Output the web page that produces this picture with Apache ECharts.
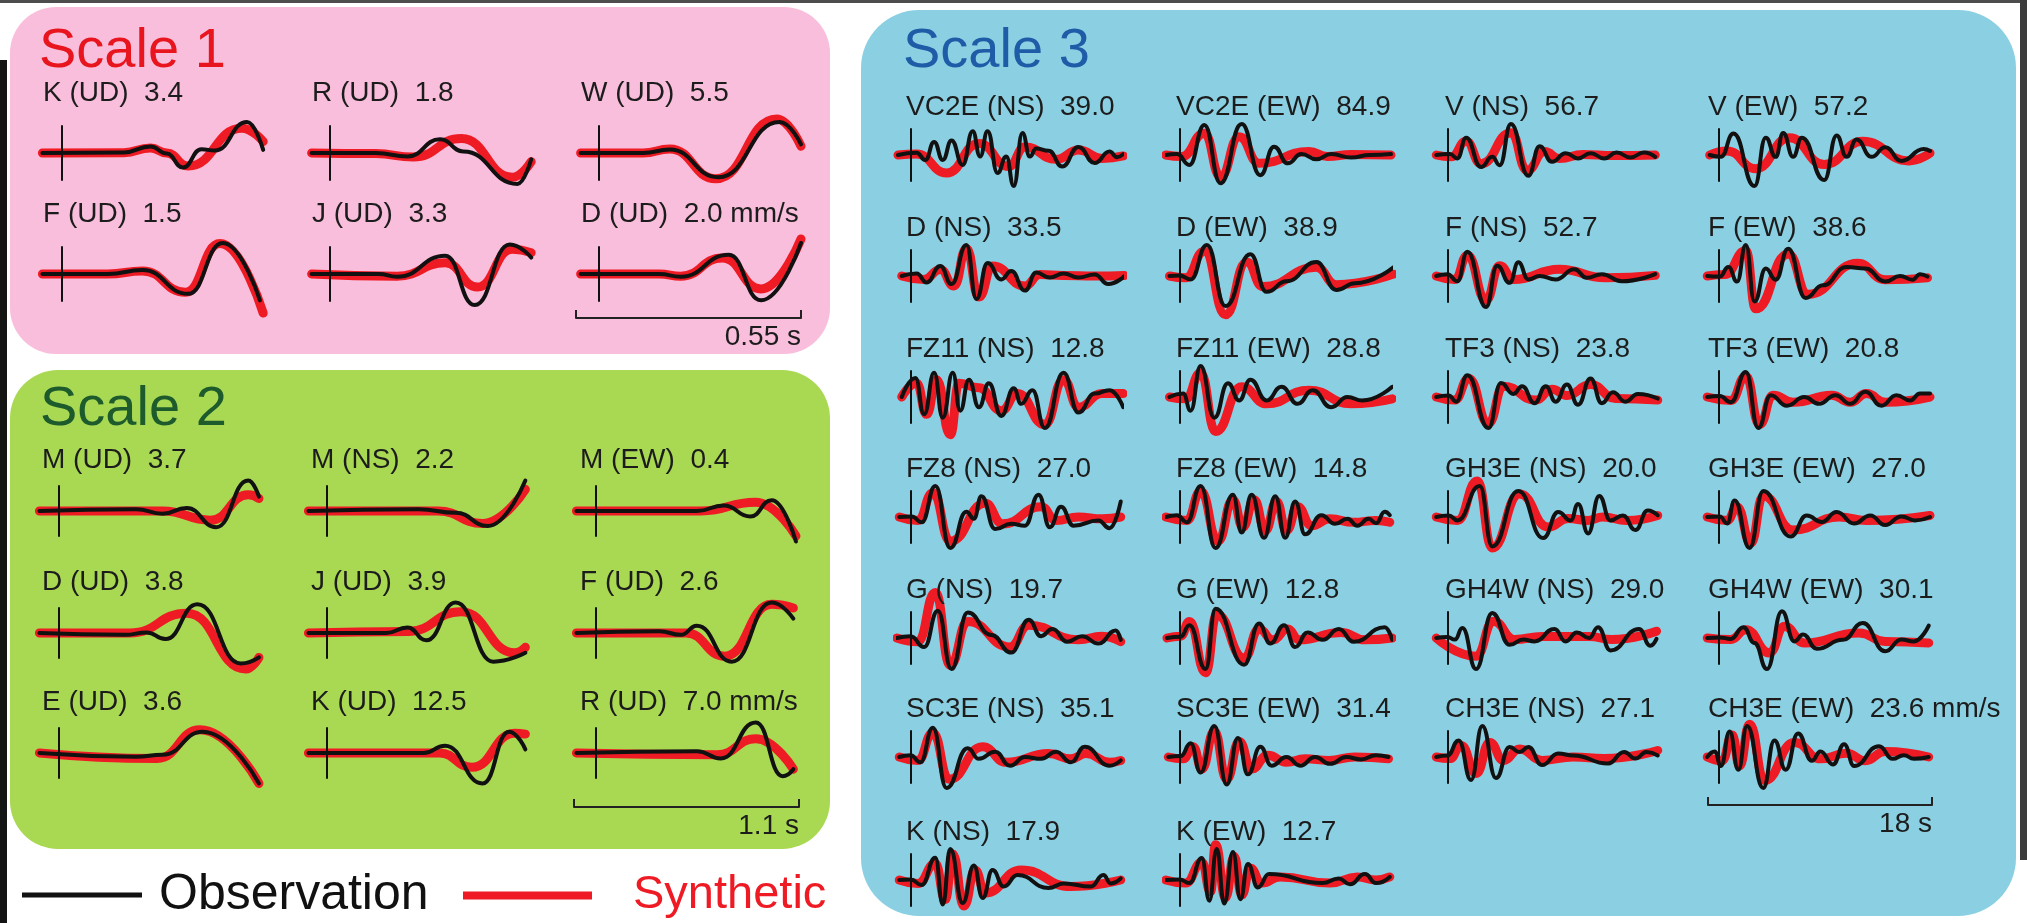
<!DOCTYPE html>
<html>
<head>
<meta charset="utf-8">
<script src="https://cdn.jsdelivr.net/npm/echarts@6/dist/echarts.min.js"></script>
<style>
  html, body { margin: 0; padding: 0; background: #ffffff; }
  #chart { width: 2027px; height: 923px; }
</style>
</head>
<body>
<div id="chart"></div>
<script>
// ---------------------------------------------------------------------------
// Waveform comparison: observed (black) vs synthetic (red) velocity records.
// Each trace is stored as [time (s), velocity / peak] pairs; the peak value
// (mm/s) printed next to each station scales the trace back to mm/s.
// ---------------------------------------------------------------------------

// ----- Scale 1 : 0.55 s window -----
const scale1Stations = ['K (UD)', 'R (UD)', 'W (UD)', 'F (UD)', 'J (UD)', 'D (UD)'];
const scale1Peaks = [3.4, 1.8, 5.5, 1.5, 3.3, 2.0];
const scale1Obs = [
  [[-0.049,0],[0.153,0.02],[0.219,0.21],[0.259,-0.02],[0.299,-0.47],[0.345,0.12],[0.378,0.08],[0.458,1.0],[0.498,0.1]],
  [[-0.046,0],[0.113,0],[0.192,-0.11],[0.272,0.44],[0.33,0.05],[0.464,-1.0],[0.498,-0.2]],
  [[-0.046,0],[0.109,0],[0.175,0.11],[0.295,-0.78],[0.447,1.0],[0.5,0.28]],
  [[-0.049,0],[0.113,0],[0.199,0.13],[0.312,-0.64],[0.398,1.0],[0.49,-0.85]],
  [[-0.046,0],[0.12,0],[0.166,-0.09],[0.285,0.59],[0.358,-1.0],[0.445,0.95],[0.498,0.53]],
  [[-0.046,0],[0.149,0],[0.202,-0.09],[0.321,0.62],[0.401,-0.85],[0.5,1.0]]
];
const scale1Syn = [
  [[-0.049,0],[0.153,0.01],[0.219,0.16],[0.259,0],[0.312,-0.42],[0.445,0.8],[0.498,0.37]],
  [[-0.046,0],[0.113,-0.02],[0.206,-0.13],[0.325,0.47],[0.451,-0.78],[0.498,-0.28]],
  [[-0.046,0],[0.109,0],[0.175,0.13],[0.289,-0.83],[0.44,1.1],[0.5,0.22]],
  [[-0.049,0],[0.113,0],[0.199,0.1],[0.305,-0.59],[0.391,0.98],[0.498,-1.26]],
  [[-0.046,0],[0.166,-0.07],[0.285,0.36],[0.365,-0.42],[0.451,0.8],[0.498,0.69]],
  [[-0.046,0],[0.149,0],[0.202,-0.07],[0.305,0.52],[0.401,-0.48],[0.5,1.13]]
];

// ----- Scale 2 : 1.1 s window -----
const scale2Stations = ['M (UD)', 'M (NS)', 'M (EW)', 'D (UD)', 'J (UD)', 'F (UD)', 'E (UD)', 'K (UD)', 'R (UD)'];
const scale2Peaks = [3.7, 2.2, 0.4, 3.8, 3.9, 2.6, 3.6, 12.5, 7.0];
const scale2Obs = [
  [[-0.098,0],[0.38,0.06],[0.512,-0.09],[0.632,0.1],[0.778,-0.53],[0.937,1.0],[0.99,0.47]],
  [[-0.093,0],[0.451,0.06],[0.637,-0.06],[0.796,-0.49],[0.982,1.0]],
  [[-0.098,0],[0.499,0],[0.632,0.18],[0.764,-0.18],[0.87,0.35],[0.99,-1.0]],
  [[-0.098,0],[0.326,-0.06],[0.433,0.02],[0.526,-0.2],[0.685,0.94],[0.9,-1.0],[0.99,-0.8]],
  [[-0.093,0],[0.292,0],[0.398,0.18],[0.491,-0.24],[0.637,1.0],[0.823,-0.94],[0.982,-0.65]],
  [[-0.098,0],[0.313,0.06],[0.419,-0.06],[0.499,0.24],[0.671,-0.94],[0.87,1.0],[0.977,0.47]],
  [[-0.098,0],[0.38,-0.12],[0.512,-0.06],[0.711,0.7],[0.99,-1.0]],
  [[-0.093,0],[0.478,0],[0.584,0.24],[0.77,-1.0],[0.902,0.7],[0.982,0.12]],
  [[-0.098,0],[0.499,0.06],[0.618,-0.18],[0.791,1.0],[0.924,-0.76],[0.977,-0.53]]
];
const scale2Syn = [
  [[-0.098,0],[0.512,0],[0.75,-0.3],[0.937,0.53],[0.99,0.41]],
  [[-0.093,0],[0.55,0],[0.77,-0.41],[0.982,0.71]],
  [[-0.098,0],[0.52,0],[0.79,0.29],[0.99,-0.82]],
  [[-0.098,0],[0.35,0],[0.633,0.65],[0.924,-1.18],[0.99,-0.8]],
  [[-0.093,0],[0.4,0.05],[0.663,0.7],[0.93,-0.65],[0.982,-0.47]],
  [[-0.098,0],[0.446,0],[0.637,-0.76],[0.87,0.94],[0.977,0.82]],
  [[-0.098,0],[0.485,-0.18],[0.698,0.76],[0.99,-1.0]],
  [[-0.093,0],[0.557,0],[0.717,-0.47],[0.929,0.65],[0.982,0.62]],
  [[-0.098,0],[0.6,-0.06],[0.791,0.47],[0.977,-0.53]]
];

// ----- Scale 3 : 18 s window -----
const scale3Stations = [
  'VC2E (NS)', 'VC2E (EW)', 'V (NS)', 'V (EW)',
  'D (NS)', 'D (EW)', 'F (NS)', 'F (EW)',
  'FZ11 (NS)', 'FZ11 (EW)', 'TF3 (NS)', 'TF3 (EW)',
  'FZ8 (NS)', 'FZ8 (EW)', 'GH3E (NS)', 'GH3E (EW)',
  'G (NS)', 'G (EW)', 'GH4W (NS)', 'GH4W (EW)',
  'SC3E (NS)', 'SC3E (EW)', 'CH3E (NS)', 'CH3E (EW)',
  'K (NS)', 'K (EW)'
];
const scale3Peaks = [39.0, 84.9, 56.7, 57.2, 33.5, 38.9, 52.7, 38.6, 12.8, 28.8, 23.8, 20.8,
  27.0, 14.8, 20.0, 27.0, 19.7, 12.8, 29.0, 30.1, 35.1, 31.4, 27.1, 23.6, 17.9, 12.7];
const scale3Obs = [
  [[-1,0],[0.5,0.07],[1.2,-0.16],[1.9,0.42],[2.6,-0.16],[3.3,0.47],[4.2,-0.32],[5.0,0.77],[5.6,-0.05],[6.2,0.77],[7.0,-0.58],[7.7,-0.05],[8.3,-1.0],[9.0,0.71],[9.6,-0.05],[10.1,0.21],[11.1,0.14],[12.2,-0.37],[13.5,0.26],[14.8,-0.26],[16.0,0.11],[16.6,-0.07],[17.1,0.03]],
  [[-1.1,0],[-0.2,0.03],[0.8,-0.32],[2.0,0.97],[3.3,-0.91],[5.0,1.0],[6.5,-0.65],[7.6,0.27],[8.7,-0.27],[9.8,0.03],[11.0,-0.14],[12.2,0.03],[13.8,-0.08],[15.3,0],[17.0,0.03]],
  [[-0.9,0],[0.2,0.03],[0.8,-0.11],[1.5,0.56],[2.7,-0.39],[3.6,-0.06],[4.2,-0.33],[5.1,1.0],[6.5,-0.67],[7.4,0.28],[8.4,-0.22],[9.5,0.06],[10.5,-0.11],[11.5,0.06],[12.6,-0.11],[13.6,0.08],[14.7,-0.08],[15.8,0.08],[16.7,-0.06]],
  [[-0.7,0],[0.2,-0.06],[1.2,0.69],[2.9,-1.0],[3.8,0.56],[4.6,-0.06],[5.2,0.71],[6.0,-0.06],[6.7,0.56],[8.5,-0.81],[9.5,0.63],[10.3,-0.06],[11.1,0.5],[12.3,-0.06],[13.4,0.25],[14.7,-0.19],[16.5,0.19],[17.0,0.13]],
  [[-0.7,0],[0.5,0.08],[1.3,-0.21],[2.4,0.32],[3.3,-0.26],[4.5,1.0],[5.3,-0.74],[6.2,0.42],[7.3,-0.11],[8.1,0.16],[9.2,-0.47],[10.1,0.11],[11.2,-0.05],[12.3,0.08],[13.5,-0.05],[14.8,0.05],[15.9,-0.26],[17.2,0]],
  [[-0.8,0],[0,0.02],[0.9,-0.11],[2.2,1.0],[3.7,-0.97],[5.7,0.7],[7.0,-0.51],[8.6,-0.17],[11.0,0.45],[12.6,-0.45],[14.1,-0.23],[17.2,0.28]],
  [[-0.9,0],[0,0.06],[0.8,-0.17],[1.6,0.78],[3.1,-1.0],[4.0,0.33],[5.0,-0.22],[5.7,0.44],[6.5,-0.11],[7.4,0],[8.7,-0.11],[10.2,0.22],[11.2,-0.06],[12.4,0.06],[14.0,-0.17],[16.7,0.06]],
  [[-0.9,0],[0.1,-0.02],[0.8,0.29],[1.5,-0.18],[2.2,1.0],[2.9,-0.82],[3.8,0.24],[4.6,-0.12],[5.6,0.88],[7.0,-0.71],[8.4,-0.3],[10.3,0.29],[11.8,0.24],[13.4,-0.18],[14.6,0],[15.6,-0.12],[16.2,0.06],[16.8,-0.02]],
  [[-0.7,0],[0.4,0.61],[1.1,-0.56],[1.9,0.78],[2.6,-0.67],[3.4,0.78],[4.0,-0.44],[4.7,0.56],[5.5,-0.33],[6.3,0.44],[7.3,-0.61],[8.3,0.28],[8.9,-0.22],[9.8,0.22],[10.8,-1.0],[12.3,0.78],[13.5,-0.5],[14.8,0.11],[16.0,0.22],[17.1,-0.33]],
  [[-0.8,0],[0.3,0.11],[0.9,-0.44],[1.7,1.0],[2.8,-0.67],[3.9,0.44],[4.8,-0.11],[5.7,0.56],[7.0,-0.11],[8.2,0.33],[9.5,-0.22],[10.7,0.22],[12.2,-0.33],[13.5,0],[14.7,-0.11],[17.1,0.33]],
  [[-0.9,0],[0.1,0.05],[0.7,-0.15],[1.6,0.7],[3.3,-1.0],[4.3,0.45],[5.3,0.1],[6.0,0.35],[7.0,-0.2],[7.9,0.35],[8.7,-0.15],[9.6,0.4],[10.5,-0.25],[11.5,0.6],[12.4,-0.2],[13.3,0.15],[14.3,-0.15],[15.3,0.1],[16.9,-0.05]],
  [[-0.9,0],[0.1,0.03],[1.0,-0.17],[2.2,0.81],[3.2,-1.0],[4.2,0.06],[5.5,-0.28],[6.9,0],[8.1,-0.22],[9.4,0.06],[10.6,-0.22],[11.8,0.17],[13.1,-0.28],[14.3,0.06],[15.4,-0.11],[16.2,0.11],[17.0,0.11]],
  [[-0.9,0],[0.1,0.02],[0.9,-0.17],[2.0,1.0],[3.2,-1.0],[4.5,0.17],[5.1,-0.06],[5.7,0.67],[6.8,-0.39],[8.1,-0.22],[9.2,-0.28],[10.3,0.72],[11.2,-0.33],[12.1,0.33],[13.1,-0.28],[15.1,-0.11],[16.0,-0.36],[16.9,0.5]],
  [[-1.1,0],[-0.2,0.06],[0.6,-0.17],[1.7,1.0],[2.9,-1.0],[4.3,0.72],[5.0,-0.5],[5.8,0.72],[6.8,-0.67],[7.7,0.67],[8.5,-0.67],[9.3,0.5],[10.1,-0.56],[11.4,0.06],[12.5,-0.22],[13.5,-0.06],[14.3,-0.28],[15.2,-0.06],[15.8,-0.2],[16.5,0.17],[16.9,0.06]],
  [[-0.9,0],[0.1,0.05],[0.8,-0.11],[2.6,1.0],[3.6,-0.95],[5.7,0.84],[7.7,-0.68],[8.9,0.16],[9.9,-0.11],[10.5,0.42],[11.3,-0.53],[12.2,0.68],[13.1,-0.11],[14.1,0.05],[15.1,-0.42],[16.1,0.21],[16.9,0.05]],
  [[-0.9,0],[0.1,0.02],[0.7,-0.21],[1.3,0.53],[2.5,-1.0],[3.6,0.84],[5.8,-0.63],[7.1,0.05],[8.3,-0.16],[9.5,0.16],[10.9,-0.21],[12.2,0.05],[13.4,-0.26],[14.7,0.02],[15.8,-0.11],[17.0,0]],
  [[-1.1,0],[0,0.06],[1.1,-0.29],[2.2,0.88],[3.3,-1.0],[4.6,0.82],[6.5,0.1],[8.1,-0.47],[9.5,0.59],[10.5,0.06],[11.4,0.29],[12.6,-0.12],[13.8,0.06],[15.1,-0.18],[16.5,0.24],[16.9,-0.06]],
  [[-1.0,0],[0.1,0.04],[0.8,0.41],[2.1,-1.0],[2.9,0.94],[5.2,-0.86],[6.4,0.47],[7.3,-0.18],[8.4,0.41],[9.3,-0.29],[10.3,0.18],[11.5,-0.06],[12.8,0.29],[14.0,-0.12],[16.5,0.35],[17.1,-0.06]],
  [[-0.9,0],[0,0.03],[0.6,-0.05],[1.2,0.32],[2.3,-1.0],[3.6,0.81],[5.0,-0.22],[6.1,-0.05],[7.0,-0.11],[8.6,0.29],[9.5,-0.11],[10.4,0.18],[11.4,0],[12.1,0.35],[13.1,-0.4],[15.4,0.29],[16.3,-0.25],[16.8,-0.03]],
  [[-0.9,0],[0.1,0.02],[1.0,-0.03],[2.0,0.35],[2.9,-0.16],[3.9,-1.0],[5.1,0.86],[6.1,-0.11],[6.8,0.11],[7.9,-0.35],[10.0,-0.06],[11.6,0.48],[13.4,-0.43],[14.7,-0.05],[15.7,-0.11],[16.9,0.4]],
  [[-0.9,0],[0,0.06],[0.8,-0.17],[1.8,0.94],[2.9,-1.0],[4.6,0.28],[5.5,-0.06],[6.8,0.17],[8.0,-0.28],[9.2,0],[10.5,-0.06],[11.7,0.17],[12.9,-0.17],[14.0,0.33],[16.0,-0.28],[16.9,-0.11]],
  [[-0.9,0],[0.1,0.03],[0.9,0.44],[1.7,-0.5],[2.8,1.0],[3.8,-0.89],[4.7,0.61],[5.5,-0.56],[6.5,0.33],[7.4,-0.28],[8.6,0],[9.7,-0.28],[10.9,0],[12.1,-0.22],[13.4,0],[14.6,-0.08],[15.8,0.06],[16.8,0]],
  [[-0.9,0],[0,0.05],[0.9,0.53],[1.9,-0.74],[2.8,1.0],[3.9,-0.68],[5.0,0.32],[5.8,0.16],[6.5,0.32],[7.6,-0.26],[8.9,0.11],[10.1,0.05],[12.9,-0.21],[14.2,0.16],[15.1,-0.05],[16.0,0.16],[16.9,0.05]],
  [[-0.9,0],[-0.3,0.18],[0.2,-0.29],[0.9,0.82],[1.6,-0.41],[2.3,1.0],[3.6,-1.0],[4.5,0.53],[5.4,-0.41],[6.4,0.76],[7.5,-0.12],[8.2,0.18],[9.2,-0.24],[10.1,0.41],[10.9,-0.29],[12.9,0.35],[14.0,-0.06],[14.9,0.06],[15.7,-0.06],[16.9,0]],
  [[-0.9,0],[0,0.02],[0.9,-0.16],[2.0,0.72],[2.6,-0.79],[3.2,1.0],[4.2,-0.74],[5.1,0.47],[5.8,-0.58],[6.6,0.32],[7.5,-0.21],[8.6,0.16],[11.1,-0.26],[12.3,-0.11],[14.5,-0.21],[15.5,0.16],[16.1,-0.11],[16.9,0.05]],
  [[-1.1,0],[0,0.02],[0.8,-0.1],[1.8,0.71],[2.4,-0.67],[3.0,1.0],[3.6,-0.76],[4.3,0.9],[4.9,-0.62],[5.5,0.52],[6.3,-0.24],[7.2,0.19],[11.5,-0.1],[12.8,0.05],[13.7,-0.14],[14.9,0.19],[15.8,-0.1],[16.9,0.1]]
];
const scale3Syn = [
  [[-1,0],[0.5,0.03],[2.9,-0.58],[5.5,0.37],[7.9,-0.37],[9.2,0.26],[11.7,-0.14],[13.5,0.16],[15.4,-0.11],[17.1,-0.03]],
  [[-1.1,0],[0.2,-0.05],[2.0,0.7],[3.3,-0.7],[4.8,0.59],[6.4,-0.27],[10.4,0.11],[11.9,-0.05],[13.8,0.02],[17.0,0]],
  [[-0.9,0],[0.3,-0.06],[1.5,0.44],[2.7,-0.28],[5.1,0.72],[6.4,-0.5],[7.8,0.11],[9.0,-0.11],[10.9,0.02],[13.3,-0.02],[16.7,0]],
  [[-0.7,0],[0.7,0.13],[3.0,-0.44],[5.7,0.56],[8.5,-0.31],[11.6,0.44],[15.3,-0.19],[17.0,0.06]],
  [[-0.7,0],[1.1,-0.11],[2.4,0.21],[3.5,-0.32],[4.5,0.89],[5.5,-0.68],[6.6,0.32],[9.2,-0.32],[10.4,0.05],[12.3,0.02],[14.8,0],[17.2,0.02]],
  [[-0.8,0],[0.5,-0.06],[2.0,0.8],[3.7,-1.25],[5.4,0.45],[6.7,-0.34],[11.0,0.28],[12.6,-0.28],[17.2,0.06]],
  [[-0.9,0],[0.6,-0.11],[1.6,0.67],[3.1,-0.78],[4.2,0.33],[5.3,-0.11],[9.0,0.22],[12.7,-0.06],[16.7,0.02]],
  [[-0.9,0],[0.5,0.05],[2.2,0.82],[3.0,-1.06],[5.6,0.71],[7.2,-0.59],[11.2,0.41],[13.4,-0.12],[16.8,-0.06]],
  [[-0.7,0],[0.5,0.44],[1.3,-0.56],[2.1,0.56],[3.2,-1.22],[3.9,0.44],[5.5,0.3],[7.3,-0.44],[8.6,0.11],[10.8,-0.89],[12.3,0.56],[13.5,-0.33],[15.4,0.11],[17.1,0.11]],
  [[-0.8,0],[0.5,-0.06],[1.7,0.78],[2.9,-1.11],[5.0,0.33],[7.0,-0.22],[10.4,0.22],[13.8,-0.22],[17.1,-0.06]],
  [[-0.9,0],[0.6,-0.1],[1.7,0.6],[3.3,-0.85],[4.5,0.35],[7.1,-0.1],[8.4,0.25],[9.6,0.05],[11.5,0.4],[13.5,-0.05],[16.9,-0.1]],
  [[-0.9,0],[1.0,-0.11],[2.2,0.67],[3.3,-0.89],[4.4,0.06],[6.0,-0.17],[9.1,0.06],[10.6,-0.17],[11.9,0.11],[13.4,-0.17],[17.0,0]],
  [[-0.9,0],[0.6,-0.11],[1.8,0.78],[3.2,-0.78],[6.0,0.44],[7.4,-0.22],[10.5,0.33],[11.7,-0.11],[13.5,0],[15.4,-0.06],[16.9,0]],
  [[-1.1,0],[0.6,-0.11],[1.7,0.83],[3.1,-0.78],[4.3,0.56],[5.1,-0.33],[6.0,0.56],[6.9,-0.44],[7.8,0.5],[8.6,-0.44],[9.5,0.33],[10.6,-0.28],[12.1,-0.06],[14.0,-0.17],[15.8,-0.11],[16.9,-0.17]],
  [[-0.9,0],[0.8,-0.11],[2.4,1.16],[3.6,-1.0],[5.8,0.74],[8.1,-0.32],[9.7,-0.05],[11.3,-0.11],[12.5,0],[14.4,-0.11],[16.9,0.05]],
  [[-0.9,0],[0.7,-0.11],[1.5,0.32],[2.6,-0.84],[3.6,0.68],[6.0,-0.42],[9.7,0],[11.9,-0.11],[17.0,0.05]],
  [[-1.1,0],[0.6,-0.12],[2.0,1.47],[3.2,-0.88],[4.6,0.53],[8.0,-0.29],[9.5,0.41],[13.5,-0.06],[15.4,0.06],[16.9,-0.12]],
  [[-1.0,0],[0.1,0.06],[0.8,0.53],[2.1,-1.12],[3.0,0.76],[5.2,-0.65],[6.4,0.29],[7.5,-0.06],[8.7,0.29],[9.6,-0.06],[13.0,0.18],[14.9,-0.06],[17.1,0]],
  [[-0.9,0],[2.3,-0.59],[3.7,0.54],[5.4,-0.05],[7.6,0.05],[11.4,0.05],[13.2,-0.05],[16.8,0.22]],
  [[-0.9,0],[1.0,-0.05],[2.2,0.27],[4.1,-0.48],[5.3,0.38],[6.9,-0.16],[11.3,0.16],[13.4,-0.11],[16.9,-0.16]],
  [[-0.9,0],[0.6,-0.11],[1.8,0.78],[3.1,-0.72],[5.8,0.33],[7.7,-0.17],[11.1,0.11],[12.9,-0.06],[14.1,0.11],[16.0,-0.17],[16.9,-0.11]],
  [[-0.9,0],[0.3,-0.06],[1.1,0.33],[1.8,-0.39],[2.8,0.83],[3.8,-0.72],[4.8,0.5],[5.8,-0.39],[7.1,0.06],[8.6,-0.17],[10.1,-0.06],[12.0,-0.11],[14.1,0],[16.8,-0.06]],
  [[-0.9,0],[0.2,-0.05],[1.1,0.37],[2.3,-0.53],[3.4,0.47],[4.5,-0.11],[5.8,0.26],[7.6,-0.11],[10.1,0],[12.6,-0.05],[16.9,0.21]],
  [[-0.9,0],[0.3,-0.12],[1.1,0.71],[1.7,-0.29],[2.5,1.06],[3.7,-0.76],[6.1,0.47],[8.2,-0.06],[10.3,0.12],[11.8,-0.12],[13.4,0.18],[16.9,0]],
  [[-0.9,0],[0.6,-0.11],[2.0,0.53],[2.8,-0.63],[3.4,0.84],[4.3,-0.84],[5.2,0.32],[6.0,-0.42],[8.9,0.32],[12.9,-0.21],[16.9,0]],
  [[-1.1,0],[0.5,-0.1],[1.8,0.57],[2.5,-0.38],[2.9,1.14],[3.7,-0.57],[4.4,0.76],[5.0,-0.48],[5.7,0.38],[6.6,-0.1],[8.1,0.1],[12.1,-0.1],[14.3,0.1],[15.8,0],[16.9,0.1]]
];

// ----- titles, time-scale bars, units -----
const scaleTitles = ['Scale 1', 'Scale 2', 'Scale 3'];
const scaleBarSpans = [0.55, 1.1, 18];
const scaleBarLabels = ['0.55 s', '1.1 s', '18 s'];
const unitPanels = [5, 8, 23];
const unitText = 'mm/s';
const legendNames = ['Observation', 'Synthetic'];

// ---------------------------------------------------------------------------
const FONT = '"Liberation Sans", Arial, Helvetica, sans-serif';
const RED = '#ee1b24';
const BLACK = '#111111';
const TEXT = '#1c1c1c';

const scaleData = [
  { stations: scale1Stations, peaks: scale1Peaks, obs: scale1Obs, syn: scale1Syn },
  { stations: scale2Stations, peaks: scale2Peaks, obs: scale2Obs, syn: scale2Syn },
  { stations: scale3Stations, peaks: scale3Peaks, obs: scale3Obs, syn: scale3Syn }
];

// panel geometry for each block (pixels)
const layouts = [
  { cols: 3, lefts: [42, 310, 579], bases: [153, 274], width: 222, half: 27, unit: 31,
    tMin: -0.05, tMax: 0.5, labelX: [43, 312, 581], labelDy: -60,
    bar: { left: 576, width: 225, y: 318 },
    title: { x: 39, y: 52, color: '#e8141e' },
    panel: { x: 10, y: 7, width: 820, height: 347, r: 46, fill: '#f9bedb' } },
  { cols: 3, lefts: [39, 307, 576], bases: [511, 633, 753], width: 222, half: 25, unit: 30.5,
    tMin: -0.1, tMax: 1.0, labelX: [42, 311, 580], labelDy: -51,
    bar: { left: 574, width: 225, y: 807 },
    title: { x: 40, y: 410, color: '#1d5b2c' },
    panel: { x: 10, y: 370, width: 820, height: 479, r: 48, fill: '#a9d853' } },
  { cols: 4, lefts: [898, 1167, 1435, 1706], bases: [155, 276, 397, 517, 638, 757, 880], width: 224, half: 26, unit: 31,
    tMin: -1, tMax: 17, labelX: [906, 1176, 1445, 1708], labelDy: -48,
    bar: { left: 1708, width: 224, y: 805 },
    title: { x: 903, y: 52, color: '#1f5ca8' },
    panel: { x: 861, y: 10, width: 1155, height: 906, r: 58, fill: '#8bd0e2' } }
];

const grids = [], xAxes = [], yAxes = [], series = [];
const graphics = [
  // screen frame remnants around the figure
  { type: 'rect', shape: { x: 0, y: 0, width: 2027, height: 3 }, style: { fill: '#4d4d4d' }, z: -20 },
  { type: 'rect', shape: { x: 0, y: 60, width: 7, height: 863 }, style: { fill: '#141414' }, z: -20 },
  { type: 'rect', shape: { x: 2020, y: 0, width: 7, height: 860 }, style: { fill: '#3c3c3c' }, z: -20 }
];

function trace(name, idx, pts, amp, color, width, z) {
  return {
    type: 'line', name: name, xAxisIndex: idx, yAxisIndex: idx,
    data: pts.map(p => [p[0], p[1] * amp]),
    smooth: 0.5, smoothMonotone: 'x', symbol: 'none', clip: false, silent: true,
    lineStyle: { color: color, width: width, cap: 'round', join: 'round' },
    itemStyle: { color: color }, z: z, animation: false
  };
}

let gi = 0;
layouts.forEach((L, s) => {
  const d = scaleData[s];
  graphics.push({ type: 'rect', shape: { x: L.panel.x, y: L.panel.y, width: L.panel.width, height: L.panel.height, r: L.panel.r },
    style: { fill: L.panel.fill }, z: -10 });
  graphics.push({ type: 'text', x: L.title.x, y: L.title.y, z: 10,
    style: { text: scaleTitles[s], font: '56px ' + FONT, fill: L.title.color, verticalAlign: 'middle' } });

  d.stations.forEach((name, i) => {
    const r = Math.floor(i / L.cols), c = i % L.cols;
    const amp = d.peaks[i];
    const yr = L.half / L.unit * amp;
    grids.push({ left: L.lefts[c], top: L.bases[r] - L.half, width: L.width, height: 2 * L.half });
    xAxes.push({ gridIndex: gi, type: 'value', min: L.tMin, max: L.tMax, show: false, axisLine: { onZero: false } });
    yAxes.push({ gridIndex: gi, type: 'value', min: -yr, max: yr, z: 3,
      axisLine: { show: true, onZero: true, lineStyle: { color: BLACK, width: 2 } },
      axisTick: { show: false }, axisLabel: { show: false }, splitLine: { show: false } });
    series.push(trace(legendNames[1], gi, d.syn[i], amp, RED, 9, 2));
    series.push(trace(legendNames[0], gi, d.obs[i], amp, BLACK, 4, 4));
    const label = name + '  ' + amp.toFixed(1) + (i === unitPanels[s] ? ' ' + unitText : '');
    graphics.push({ type: 'text', x: L.labelX[c], y: L.bases[r] + L.labelDy, z: 10,
      style: { text: label, font: '28px ' + FONT, fill: TEXT, verticalAlign: 'middle' } });
    gi++;
  });

  // time-scale bar drawn as its own axis
  const span = scaleBarSpans[s];
  const barLabel = scaleBarLabels[s];
  grids.push({ left: L.bar.left, top: L.bar.y - 10, width: L.bar.width, height: 10 });
  xAxes.push({ gridIndex: gi, type: 'value', min: 0, max: span, interval: span, position: 'bottom',
    axisLine: { show: true, onZero: false, lineStyle: { color: '#222', width: 2 } },
    axisTick: { show: true, inside: true, length: 8, lineStyle: { color: '#222', width: 2 } },
    axisLabel: { show: true, margin: 5, align: 'right', fontSize: 28, fontFamily: FONT, color: TEXT,
      formatter: v => (v > 0 ? barLabel : '') },
    splitLine: { show: false } });
  yAxes.push({ gridIndex: gi, type: 'value', min: 0, max: 1, show: false });
  gi++;
});

const chart = echarts.init(document.getElementById('chart'), null, { width: 2027, height: 923 });
chart.setOption({
  animation: false,
  backgroundColor: '#ffffff',
  textStyle: { fontFamily: FONT },
  grid: grids,
  xAxis: xAxes,
  yAxis: yAxes,
  series: series,
  legend: [
    { data: [{ name: legendNames[0], icon: 'rect', itemStyle: { color: BLACK } }],
      left: 22, top: 870, padding: 0, itemWidth: 120, itemHeight: 5, selectedMode: false,
      textStyle: { fontSize: 50, fontFamily: FONT, color: BLACK, padding: [0, 0, 0, 12] } },
    { data: [{ name: legendNames[1], icon: 'rect', itemStyle: { color: RED } }],
      left: 463, top: 872, padding: 0, itemWidth: 129, itemHeight: 8, selectedMode: false,
      textStyle: { fontSize: 47, fontFamily: FONT, color: RED, padding: [0, 0, 0, 36] } }
  ],
  graphic: { elements: graphics }
});
</script>
</body>
</html>
